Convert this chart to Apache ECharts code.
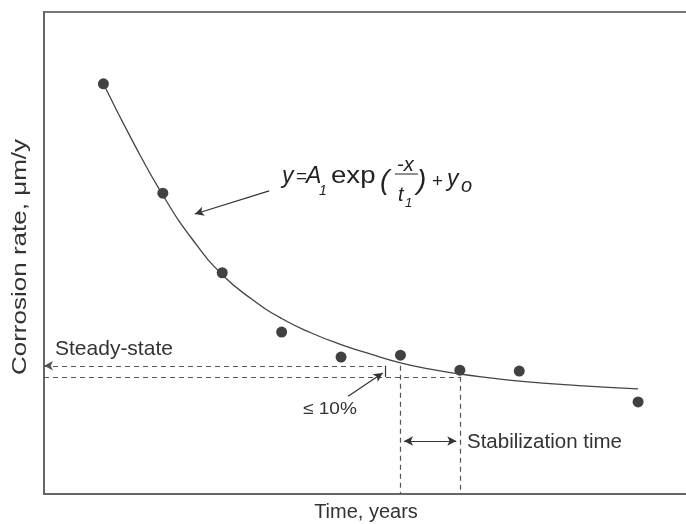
<!DOCTYPE html>
<html>
<head>
<meta charset="utf-8">
<script src="https://cdn.jsdelivr.net/npm/echarts@6/dist/echarts.min.js"></script>
<style>
  html, body { margin: 0; padding: 0; background: #fff; }
  #chart { width: 686px; height: 524px; }
</style>
</head>
<body>
<div id="chart"></div>
<script>
// measured points (time in years, corrosion rate in arbitrary units)
var pointTimes = [1, 2, 3, 4, 5, 6, 7, 8, 10];
var pointRates = [85.1, 62.4, 45.9, 33.6, 28.4, 28.8, 25.7, 25.5, 19.1];

// fitted curve
var curveTimes = [1, 1.5, 2, 2.5, 3, 3.5, 4, 4.5, 5, 5.5, 6, 6.5, 7, 7.5, 8, 9, 10];
var curveRates = [85.1, 73, 62, 52.8, 45.5, 40.4, 36.4, 33.4, 31, 29, 27.2, 25.9, 24.9, 24.1, 23.4, 22.5, 21.8];

var steadyLevel = 26.6;
var lowerLevel = 24.3;
var stabStart = 6;
var stabEnd = 7;

var FONT = 'Liberation Sans';
var dash = { color: '#555', type: [5, 4], width: 1.2 };
var solid = { color: '#333', type: 'solid', width: 1.2 };

function seg(a, b, s0, s1, style) {
  return [
    { coord: a, symbol: s0, lineStyle: style },
    { coord: b, symbol: s1 }
  ];
}

function ftext(x, y, text, size, italic, sx) {
  return {
    type: 'text', x: x, y: y, scaleX: sx || 1,
    style: {
      text: text, fontFamily: FONT, fontStyle: italic ? 'italic' : 'normal',
      fontSize: size, fill: '#222', verticalAlign: 'middle'
    }
  };
}

var chart = echarts.init(document.getElementById('chart'));

chart.setOption({
  animation: false,
  backgroundColor: '#fff',
  grid: {
    left: 44, right: -2, top: 12, bottom: 30,
    outerBoundsMode: 'none',
    show: true, borderColor: '#777', borderWidth: 2
  },
  xAxis: {
    type: 'value', min: 0, max: 10.84,
    axisLine: { show: true, lineStyle: { color: '#666', width: 2 } },
    axisTick: { show: false }, axisLabel: { show: false }, splitLine: { show: false },
    name: 'Time, years', nameLocation: 'middle', nameGap: 8,
    nameTextStyle: { fontFamily: FONT, fontSize: 20, color: '#333' }
  },
  yAxis: {
    type: 'value', min: 0, max: 100,
    axisLine: { show: true, lineStyle: { color: '#666', width: 2 } },
    axisTick: { show: false }, axisLabel: { show: false }, splitLine: { show: false }
  },
  graphic: [
    { type: 'text', x: 20, y: 257, rotation: Math.PI / 2, scaleX: 1.3,
      style: { text: 'Corrosion rate, \u03bcm/y', fontFamily: FONT, fontSize: 20, fill: '#333', align: 'center', verticalAlign: 'middle' } },
    { type: 'text', x: 55, y: 349,
      style: { text: 'Steady-state', fontFamily: FONT, fontSize: 21, fill: '#333', align: 'left', verticalAlign: 'middle' } },
    { type: 'text', x: 467, y: 442,
      style: { text: 'Stabilization time', fontFamily: FONT, fontSize: 20.5, fill: '#333', align: 'left', verticalAlign: 'middle' } },
    { type: 'text', x: 303, y: 409, scaleX: 1.12,
      style: { text: '\u2264 10%', fontFamily: FONT, fontSize: 17, fill: '#333', align: 'left', verticalAlign: 'middle' } },
    // formula pieces
    ftext(282, 177, 'y', 23, true),
    ftext(296, 177, '=', 19, false),
    ftext(306, 177, 'A', 23, true),
    ftext(319, 191, '1', 14, true),
    ftext(331, 177, 'exp', 23, false, 1.2),
    ftext(380, 181, '(', 28, true),
    ftext(397, 165, '-x', 20, true),
    { type: 'line', shape: { x1: 395, y1: 174, x2: 418, y2: 174 }, style: { stroke: '#222', lineWidth: 1 } },
    ftext(398, 195, 't', 20, true),
    ftext(405, 203, '1', 13, true),
    ftext(417, 181, ')', 28, true),
    ftext(432, 182, '+', 19, false),
    ftext(447, 180, 'y', 23, true),
    ftext(461, 186, 'o', 20, true)
  ],
  series: [
    {
      type: 'line',
      smooth: true,
      showSymbol: false,
      data: curveTimes.map(function (t, i) { return [t, curveRates[i]]; }),
      lineStyle: { color: '#444', width: 1.3 },
      markLine: {
        silent: true,
        symbolSize: [7, 9],
        label: { show: false },
        data: [
          // steady-state level with arrow at the axis
          seg([0, steadyLevel], [5.74, steadyLevel], 'arrow', 'none', dash),
          seg([0, lowerLevel], [stabEnd, lowerLevel], 'none', 'none', dash),
          seg([stabStart, steadyLevel], [stabStart, 0], 'none', 'none', dash),
          seg([stabEnd, lowerLevel], [stabEnd, 0], 'none', 'none', dash),
          // 10% marker
          seg([5.74, steadyLevel], [5.74, lowerLevel], 'none', 'none', solid),
          // arrow to 10% marker
          seg([5.12, 20.3], [5.7, 25.1], 'none', 'arrow', solid),
          // arrow from formula to curve
          seg([3.79, 62.9], [2.54, 58.1], 'none', 'arrow', solid),
          // stabilization time double arrow
          seg([6.06, 11.0], [6.94, 11.0], 'arrow', 'arrow', solid)
        ]
      }
    },
    {
      type: 'scatter',
      symbol: 'circle',
      symbolSize: 11,
      itemStyle: { color: '#111' },
      data: pointTimes.map(function (t, i) { return [t, pointRates[i]]; })
    }
  ]
});
</script>
</body>
</html>
